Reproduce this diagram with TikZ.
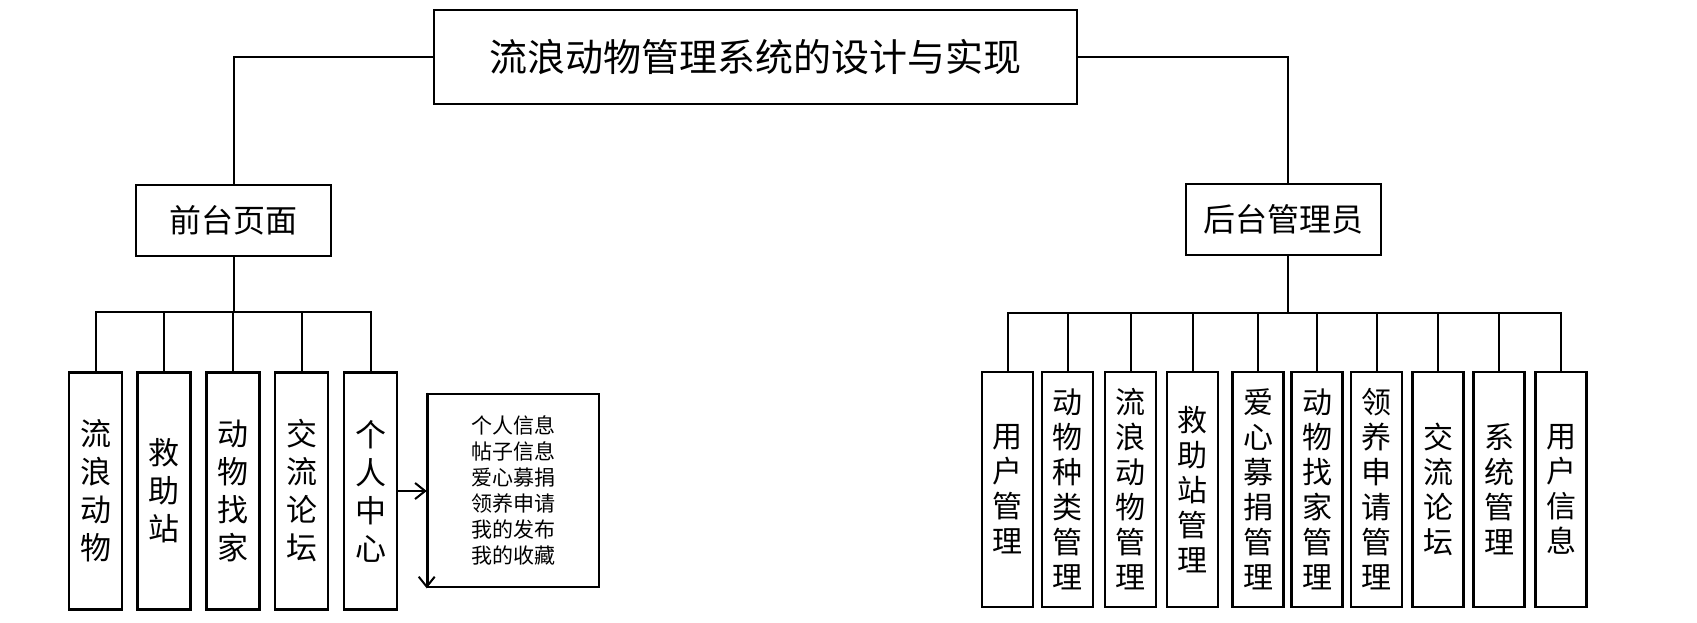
\documentclass[tikz,border=0pt]{standalone}
\usepackage{fontspec}
\setmainfont{Noto Sans CJK SC}
\usetikzlibrary{arrows.meta,positioning,calc}

\tikzset{
  titlebox/.style={draw,line width=1.3pt,inner sep=0pt,minimum width=321.5pt,minimum height=47pt,font=\fontsize{19}{22}\selectfont},
  groupbox/.style={draw,line width=1.3pt,inner sep=0pt,minimum width=97.5pt,minimum height=35.5pt,font=\fontsize{16}{19}\selectfont},
  frontleaf/.style={draw,line width=1.3pt,inner sep=0pt,align=center,minimum width=26.5pt,minimum height=118.5pt,font=\fontsize{15.5}{19}\selectfont},
  backleaf/.style={draw,line width=1.3pt,inner sep=0pt,align=center,minimum width=25.5pt,minimum height=117.5pt,font=\fontsize{15}{17.5}\selectfont},
  infobox/.style={draw,line width=1.3pt,inner sep=0pt,align=center,minimum width=85.5pt,minimum height=96.5pt,font=\fontsize{10.5}{13}\selectfont},
  link/.style={line width=1pt},
  arr/.style={line width=1pt,-{Straight Barb[length=5pt,width=8pt]}}
}

\begin{document}
\begin{tikzpicture}[x=0.5pt,y=-0.5pt]
    \useasboundingbox (0,0) rectangle (1697,622);
    % top
    \node[titlebox] (sys) at (755.5,57) {流浪动物管理系统的设计与实现};
    \node[groupbox] (front) at (233.5,220.5) {前台页面};
    \node[groupbox] (back) at (1283.5,219.5) {后台管理员};
    \draw[link] (sys.west) -| (front.north);
    \draw[link] (sys.east) -| ($(back.north)+(4.5,0)$);
    % front side
    \node[frontleaf] (lldw) at (95.5,491) {流\\浪\\动\\物};
    \node[frontleaf] (jzz) at (164,491) {救\\助\\站};
    \node[frontleaf] (dwzj) at (233,491) {动\\物\\找\\家};
    \node[frontleaf] (jllt) at (301.5,491) {交\\流\\论\\坛};
    \node[frontleaf] (grzx) at (370.5,491) {个\\人\\中\\心};
    \node[infobox] (info) at (513.5,490.5) {个人信息\\帖子信息\\爱心募捐\\领养申请\\我的发布\\我的收藏};
    \coordinate (fbus) at (233.5,312);
    \draw[link] (front.south) -- (fbus);
    \draw[link] (fbus) -| (lldw.north);
    \draw[link] (fbus) -| (jzz.north);
    \draw[link] (fbus) -| (dwzj.north);
    \draw[link] (fbus) -| (jllt.north);
    \draw[link] (fbus) -| (grzx.north);
    \draw[arr] (grzx.east) -- (grzx.east -| info.west);
    \draw[arr] (info.north west) -- (info.south west);
    % back side
    \node[backleaf] (yhgl) at (1007.5,489.5) {用\\户\\管\\理};
    \node[backleaf] (zlgl) at (1067.5,489.5) {动\\物\\种\\类\\管\\理};
    \node[backleaf] (llgl) at (1130.5,489.5) {流\\浪\\动\\物\\管\\理};
    \node[backleaf] (jzgl) at (1192.5,489.5) {救\\助\\站\\管\\理};
    \node[backleaf] (axgl) at (1258,489.5) {爱\\心\\募\\捐\\管\\理};
    \node[backleaf] (zjgl) at (1317,489.5) {动\\物\\找\\家\\管\\理};
    \node[backleaf] (lygl) at (1376.5,489.5) {领\\养\\申\\请\\管\\理};
    \node[backleaf] (jlgl) at (1438,489.5) {交\\流\\论\\坛};
    \node[backleaf] (xtgl) at (1499,489.5) {系\\统\\管\\理};
    \node[backleaf] (yhxx) at (1561,489.5) {用\\户\\信\\息};
    \coordinate (bbus) at (1288,313);
    \draw[link] (back.south -| bbus) -- (bbus);
    \draw[link] (bbus) -| (yhgl.north);
    \draw[link] (bbus) -| (zlgl.north);
    \draw[link] (bbus) -| (llgl.north);
    \draw[link] (bbus) -| (jzgl.north);
    \draw[link] (bbus) -| (axgl.north);
    \draw[link] (bbus) -| (zjgl.north);
    \draw[link] (bbus) -| (lygl.north);
    \draw[link] (bbus) -| (jlgl.north);
    \draw[link] (bbus) -| (xtgl.north);
    \draw[link] (bbus) -| (yhxx.north);
  \end{tikzpicture}
\end{document}
